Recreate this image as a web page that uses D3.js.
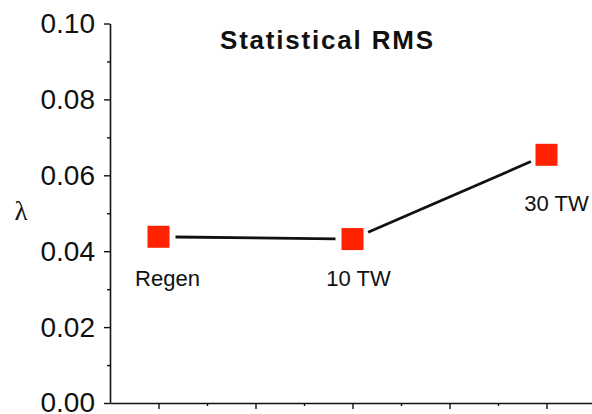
<!DOCTYPE html>
<html>
<head>
<meta charset="utf-8">
<script src="https://cdn.jsdelivr.net/npm/d3@7"></script>
<style>
  html, body { margin: 0; padding: 0; background: #fff; }
  svg { display: block; }
</style>
</head>
<body>
<svg id="chart" width="592" height="414"></svg>
<script>
// Series data
const categories = ["Regen", "10 TW", "30 TW"];
const positions = [1, 3, 5];
const lambdaValues = [0.0438, 0.0432, 0.0654];
const yTickValues = [0.00, 0.02, 0.04, 0.06, 0.08, 0.10];
const yTickLabels = ["0.00", "0.02", "0.04", "0.06", "0.08", "0.10"];

// Per-label placement below/right of each marker (layout only)
const labelOffsets = [[9, 49], [6, 47], [10, 56]];

const svg = d3.select("#chart");
const font = "'Liberation Sans', Arial, Helvetica, sans-serif";

const x = d3.scaleLinear().domain([0.5, 5.5]).range([110, 595]);
const y = d3.scaleLinear().domain([0, 0.1]).range([403, 23.5]);

// Y axis
const yAxis = d3.axisLeft(y)
  .tickValues(yTickValues)
  .tickFormat((d, i) => yTickLabels[i])
  .tickSize(6)
  .tickSizeOuter(0)
  .tickPadding(9);
const gy = svg.append("g").attr("transform", `translate(${x(0.5)},0)`).call(yAxis);
gy.select(".domain").attr("stroke", "#111").attr("stroke-width", 1.6);
gy.selectAll(".tick line").attr("stroke", "#111").attr("stroke-width", 1.4);
gy.selectAll(".tick text")
  .attr("font-family", font).attr("font-size", 28).attr("fill", "#111");

// Y minor ticks
const yMinor = d3.axisLeft(y).tickValues([0.01, 0.03, 0.05, 0.07, 0.09])
  .tickSize(3).tickFormat("");
const gym = svg.append("g").attr("transform", `translate(${x(0.5)},0)`).call(yMinor);
gym.select(".domain").remove();
gym.selectAll(".tick line").attr("stroke", "#111").attr("stroke-width", 1.4);

// X axis (no labels)
const xAxis = d3.axisBottom(x).tickValues([1, 2, 3, 4, 5])
  .tickSize(6).tickSizeOuter(0).tickFormat("");
const gx = svg.append("g").attr("transform", `translate(0,${y(0)})`).call(xAxis);
gx.select(".domain").attr("stroke", "#111").attr("stroke-width", 1.6);
gx.selectAll(".tick line").attr("stroke", "#111").attr("stroke-width", 1.4);

const xMinor = d3.axisBottom(x).tickValues([1.5, 2.5, 3.5, 4.5])
  .tickSize(3).tickFormat("");
const gxm = svg.append("g").attr("transform", `translate(0,${y(0)})`).call(xMinor);
gxm.select(".domain").remove();
gxm.selectAll(".tick line").attr("stroke", "#111").attr("stroke-width", 1.4);

// Connecting segments, trimmed short of each marker
const gap = 17;
const pts = positions.map((p, i) => [x(p), y(lambdaValues[i])]);
const segs = d3.pairs(pts).map(([a, b]) => {
  const dx = b[0] - a[0], dy = b[1] - a[1];
  const L = Math.hypot(dx, dy);
  const ux = dx / L, uy = dy / L;
  return [a[0] + ux * gap, a[1] + uy * gap, b[0] - ux * gap, b[1] - uy * gap];
});
svg.append("g").selectAll("line").data(segs).join("line")
  .attr("x1", d => d[0]).attr("y1", d => d[1])
  .attr("x2", d => d[2]).attr("y2", d => d[3])
  .attr("stroke", "#111").attr("stroke-width", 2.8);

// Square markers
const size = 22;
svg.append("g").selectAll("rect").data(positions).join("rect")
  .attr("x", (d) => x(d) - size / 2)
  .attr("y", (d, i) => y(lambdaValues[i]) - size / 2)
  .attr("width", size).attr("height", size)
  .attr("fill", "#ff2200");

// Point labels
svg.append("g").selectAll("text").data(categories).join("text")
  .attr("x", (d, i) => x(positions[i]) + labelOffsets[i][0])
  .attr("y", (d, i) => y(lambdaValues[i]) + labelOffsets[i][1])
  .attr("text-anchor", "middle")
  .attr("font-family", font).attr("font-size", 22).attr("fill", "#111")
  .text(d => d);

// Title
svg.append("text")
  .attr("x", 220).attr("y", 49)
  .attr("font-family", font).attr("font-size", 26).attr("font-weight", "bold")
  .attr("letter-spacing", 1.8)
  .attr("fill", "#111")
  .text("Statistical RMS");

// Y axis symbol
svg.append("text")
  .attr("x", 21).attr("y", 220)
  .attr("text-anchor", "middle")
  .attr("font-family", "'Liberation Serif', 'Times New Roman', serif")
  .attr("font-size", 27).attr("fill", "#111")
  .text("λ");
</script>
</body>
</html>
